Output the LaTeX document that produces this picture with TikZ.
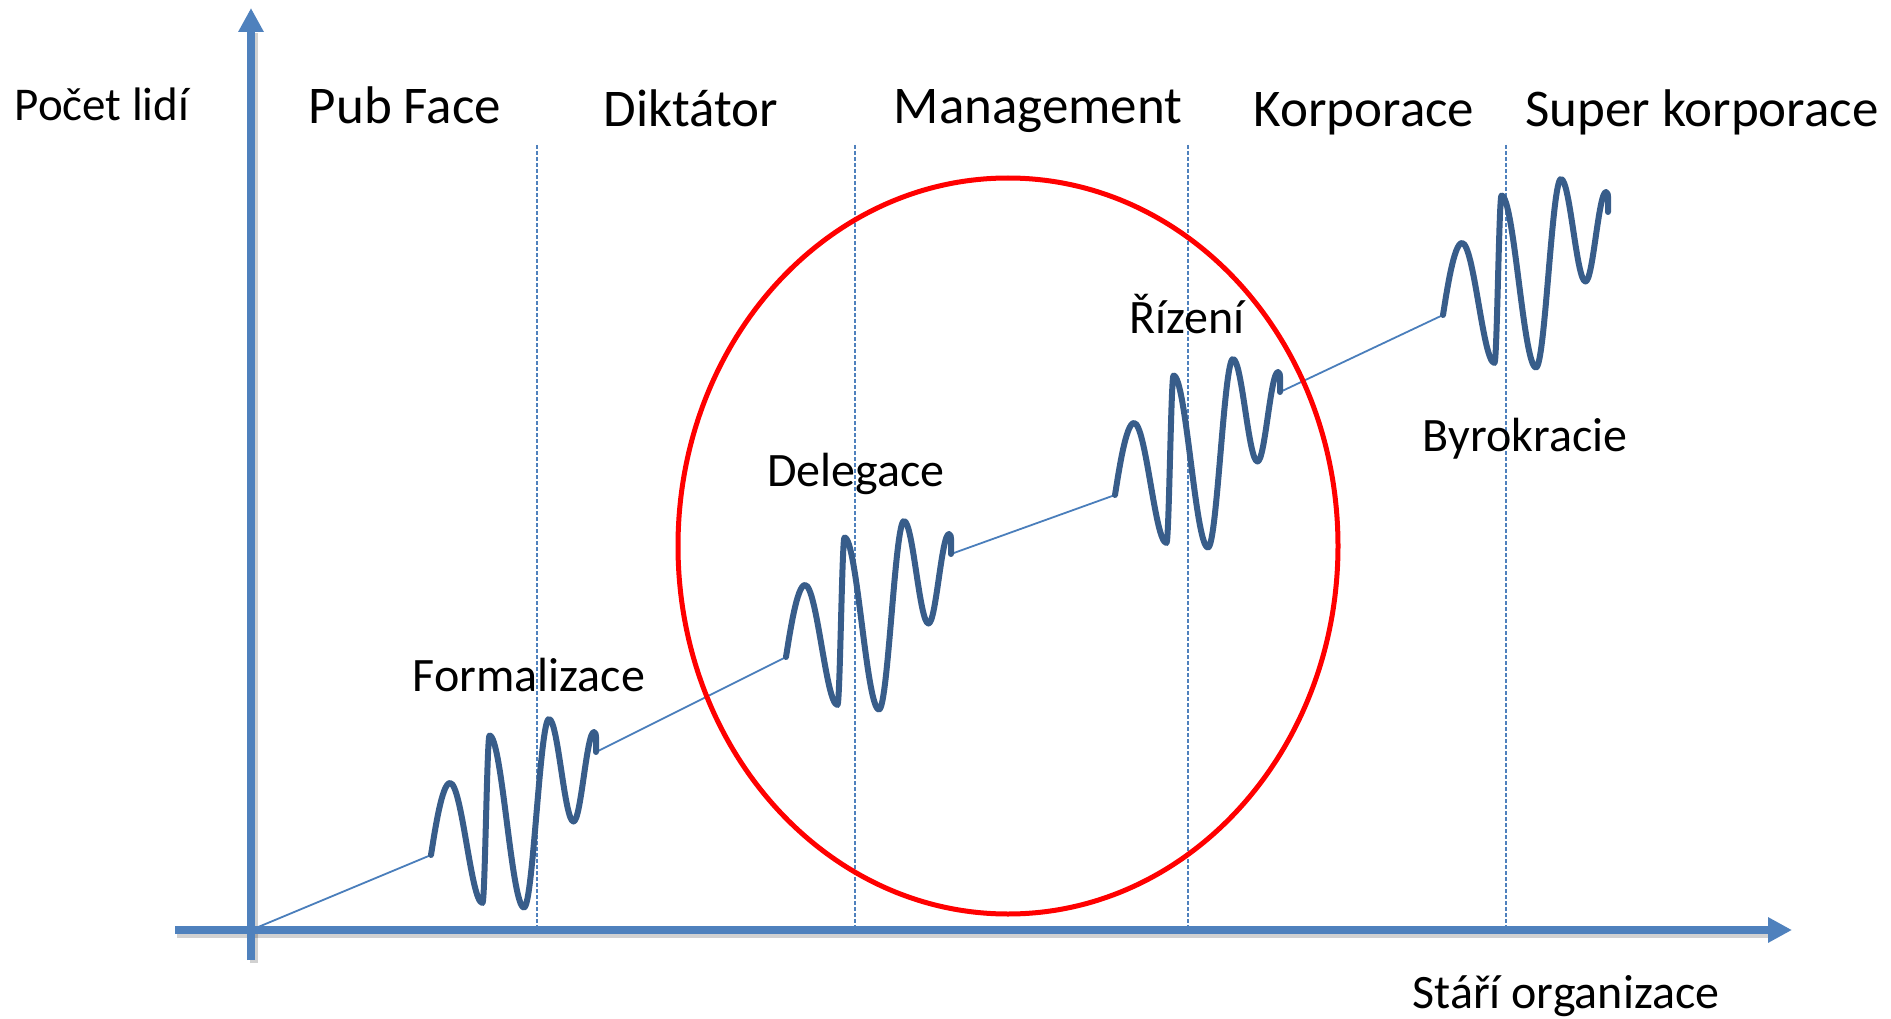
\documentclass[tikz,border=0pt]{standalone}
\usepackage{fontspec}
\setmainfont{Carlito}
\usetikzlibrary{arrows.meta}
\definecolor{axisblue}{RGB}{79,129,189}
\definecolor{waveblue}{RGB}{56,93,138}
\definecolor{linkblue}{RGB}{74,126,187}
\tikzset{
  axisline/.style={line width=8pt, draw=axisblue, -{Triangle[length=24pt,width=24pt]}},
  axisshadow/.style={line width=8pt, draw=black, opacity=0.18},
  gridline/.style={line width=1.5pt, draw=axisblue, dash pattern=on 4pt off 2pt},
  linkline/.style={line width=1.8pt, draw=linkblue},
  waveline/.style={line width=6pt, draw=waveblue, line join=round, line cap=round},
  hdr/.style={anchor=base, inner sep=0pt, font=\fontsize{53}{60}\selectfont},
  lab/.style={anchor=base, inner sep=0pt, font=\fontsize{48}{56}\selectfont},
  bigring/.style={line width=5pt, draw=red},
  wave/.pic={
    \draw[waveline] (0,0)
      .. controls (4,-25) and (11,-72) .. (19,-72)
      .. controls (31,-72) and (40,48) .. (51.5,48)
      .. controls (54,48) and (56,-119.5) .. (58.5,-119.5)
      .. controls (71,-119.5) and (80.5,52.5) .. (93,52.5)
      .. controls (102,52.5) and (109,-136) .. (118,-136)
      .. controls (127,-136) and (133.5,-33.5) .. (142.5,-33.5)
      .. controls (150,-33.5) and (155.5,-123) .. (163,-123)
      .. controls (166,-123) and (165,-112) .. (165,-103);
  }
}
\begin{document}
\begin{tikzpicture}[x=1pt,y=-1pt]
\useasboundingbox (0,0) rectangle (1891,1019);
\fill[white] (0,0) rectangle (1891,1019);

% dashed separators
\foreach \xx/\nm in {537/g1,855/g2,1188/g3,1506/g4}{
  \coordinate (\nm top) at (\xx,145);
  \coordinate (\nm bot) at (\xx,930);
  \draw[gridline] (\nm top) -- (\nm bot);
}

% anchor points of the curve
\coordinate (O) at (251,930);
\coordinate (w1s) at (431,855);
\coordinate (w1e) at (596,752);
\coordinate (w2s) at (786,657);
\coordinate (w2e) at (951,554);
\coordinate (w3s) at (1115,495);
\coordinate (w3e) at (1280,392);
\coordinate (w4s) at (1443,315);

% thin connectors
\draw[linkline] (O) -- (w1s);
\draw[linkline] (w1e) -- (w2s);
\draw[linkline] (w2e) -- (w3s);
\draw[linkline] (w3e) -- (w4s);

% waves
\pic at (w1s) {wave};
\pic at (w2s) {wave};
\pic at (w3s) {wave};
\pic at (w4s) {wave};

% red ellipse
\coordinate (ringc) at (1008,546);
\draw[bigring] (ringc) ellipse [x radius=330pt, y radius=368pt];

% axes
\coordinate (xstart) at (175,930);
\coordinate (xend) at (1792,930);
\coordinate (ystart) at (251,960);
\coordinate (yend) at (251,8);
\draw[axisshadow] ([shift={(2,4)}]xstart) -- ([shift={(2,4)}]1770,930);
\draw[axisshadow] ([shift={(3,3)}]ystart) -- ([shift={(3,3)}]251,30);
\draw[axisline] (xstart) -- (xend);
\draw[axisline] (ystart) -- (yend);

% axis labels
\node[lab, font=\fontsize{47}{54}\selectfont] (ylab) at (102,121) {Počet lidí};
\node[lab] (xlab) at (1566,1008) {Stáří organizace};

% headers
\node[hdr] (h1) at (405,124) {Pub Face};
\node[hdr] (h2) at (691,127) {Diktátor};
\node[hdr] (h3) at (1038,124) {Management};
\node[hdr] (h4) at (1364,127) {Korporace};
\node[hdr] (h5) at (1702,127) {Super korporace};

% wave labels
\node[lab] (l1) at (529,691) {Formalizace};
\node[lab] (l2) at (856,486) {Delegace};
\node[lab] (l3) at (1187,333) {Řízení};
\node[lab] (l4) at (1525,451) {Byrokracie};
\end{tikzpicture}
\end{document}
